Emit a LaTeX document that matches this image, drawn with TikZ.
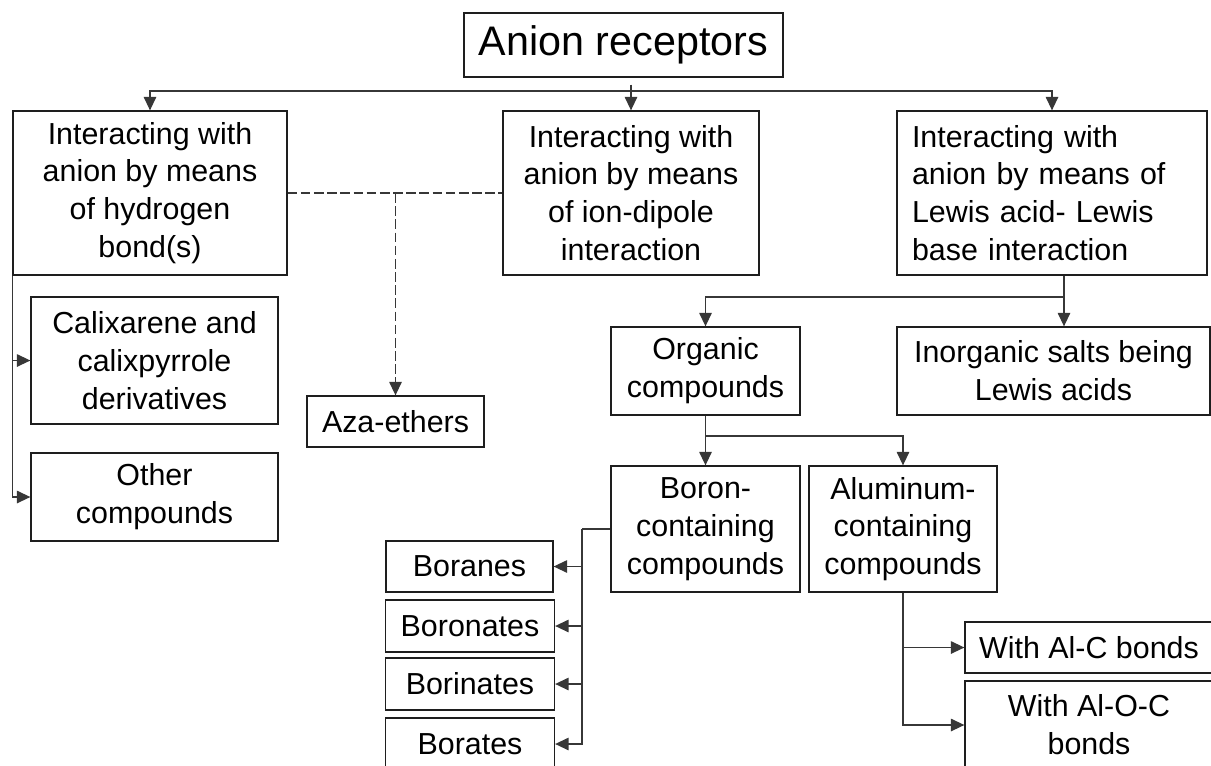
\documentclass[tikz,border=0pt]{standalone}
\usepackage{fontspec}
\setmainfont{Liberation Sans}
\usepackage{tikz}
\usetikzlibrary{arrows.meta}
\definecolor{ink}{RGB}{30,30,30}
\definecolor{wire}{RGB}{55,55,55}
\newcommand{\bodysize}{\fontsize{17.3}{21.5}\selectfont}
\newcommand{\titlesize}{\fontsize{23.5}{28}\selectfont}

\begin{document}
\begin{tikzpicture}[x=0.02cm,y=-0.02cm,
  every node/.style={font=\bodysize},
  box/.style={draw=ink,line width=0.75pt,align=center,inner sep=2pt},
  ln/.style={draw=wire,line width=0.75pt},
  fl/.style={ln,-{Triangle[length=2.7mm,width=2.5mm]}},
  dl/.style={ln,dash pattern=on 5.5pt off 2pt}]
  \clip (0,0) rectangle (1211,765);
  % top : root
  \node[box,font=\titlesize,minimum width=6.38cm,minimum height=1.28cm] (top) at (623.5,45) {Anion receptors};
  % first row : kinds of interaction
  \node[box,minimum width=5.48cm,minimum height=3.28cm] (hb)  at (150,193)  {Interacting with\\anion by means\\of hydrogen\\bond(s)};
  \node[box,minimum width=5.12cm,minimum height=3.28cm] (idp) at (631,193)  {Interacting with\\anion by means\\of ion-dipole\\interaction};
  \node[box,align=left,text width=5.6cm,inner xsep=0.3cm,minimum height=3.28cm] (lew) at (1052,193) {Interacting with\\anion by means of\\Lewis acid- Lewis\\base interaction};
  % left column : hydrogen bond receptors
  \node[box,minimum width=4.94cm,minimum height=2.54cm] (calix) at (154.5,360.5) {Calixarene and\\calixpyrrole\\derivatives};
  \node[box,minimum width=4.94cm,minimum height=1.76cm] (other) at (154.5,497)   {Other\\compounds};
  \node[box,minimum width=3.54cm,minimum height=1.02cm] (aza)   at (395.5,421.5) {Aza-ethers};
  % right part : Lewis acids
  \node[box,minimum width=3.78cm,minimum height=1.76cm] (org)   at (705.5,371)  {Organic\\compounds};
  \node[box,minimum width=6.26cm,minimum height=1.76cm] (inorg) at (1053.5,371) {Inorganic salts being\\Lewis acids};
  \node[box,minimum width=3.78cm,minimum height=2.52cm] (boron) at (705.5,529)  {Boron-\\containing\\compounds};
  \node[box,minimum width=3.76cm,minimum height=2.52cm] (alum)  at (903,529)    {Aluminum-\\containing\\compounds};
  % boron family
  \node[box,minimum width=3.34cm,minimum height=1.02cm] (boranes)   at (469.5,566.5) {Boranes};
  \node[box,minimum width=3.38cm,minimum height=1.04cm] (boronates) at (470,626)     {Boronates};
  \node[box,minimum width=3.38cm,minimum height=1.04cm] (borinates) at (470,684)     {Borinates};
  \node[box,minimum width=3.38cm,minimum height=1.04cm] (borates)   at (470,744)     {Borates};
  % aluminum family
  \node[box,minimum width=4.96cm,minimum height=1.02cm] (alc)  at (1089,647.5) {With Al-C bonds};
  \node[box,minimum width=4.96cm,minimum height=1.76cm] (aloc) at (1089,725)   {With Al-O-C\\bonds};
  % edges
  \coordinate (tj) at (631,91);
  \coordinate (rj) at (1064,297);
  \coordinate (oj) at (705.5,436);
  \coordinate (bj) at (582,529);
  \draw[fl,shorten <=4pt] (top.south -| tj) -- (idp.north);
  \draw[fl] (tj) -| (hb.north);
  \draw[fl] (tj) -| (lew.north);
  \draw[dl] (hb.east) -- (idp.west);
  \draw[dl,-{Triangle[length=2.7mm,width=2.5mm]}] (aza.north |- hb.east) -- (aza.north);
  \draw[fl] (hb.south west) |- (calix.west);
  \draw[fl] (hb.south west) |- (other.west);
  \draw[ln] (lew.south -| rj) -- (rj);
  \draw[fl] (rj) -| (org.north);
  \draw[fl] (rj) -- (rj |- inorg.north);
  \draw[fl] (org.south) -- (boron.north);
  \draw[fl] (oj) -| (alum.north);
  \draw[ln] (boron.west) -- (bj);
  \foreach \n in {boranes,boronates,borinates,borates}
    \draw[fl] (bj) |- (\n.east);
  \draw[fl] (alum.south) |- (alc.west);
  \draw[fl] (alum.south) |- (aloc.west);
\end{tikzpicture}
\end{document}
